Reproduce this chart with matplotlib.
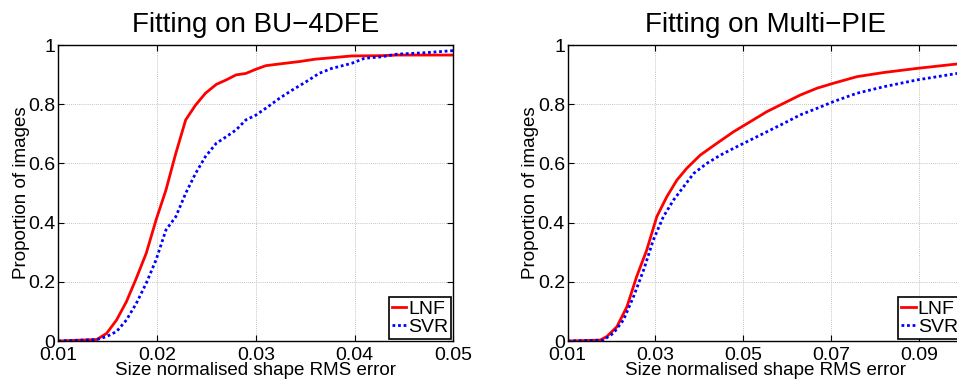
import numpy as np
import matplotlib
matplotlib.use("Agg")
import matplotlib.pyplot as plt

plt.rcParams['font.family'] = ['Liberation Sans', 'DejaVu Sans']

# BU-4DFE cumulative error curves
bu_lnf_x = [0.010, 0.0139, 0.0149, 0.0159, 0.0169, 0.0179, 0.0189, 0.0199, 0.0209, 0.0219,
            0.0229, 0.0239, 0.0249, 0.0260, 0.0270, 0.0280, 0.0290, 0.0300, 0.0310, 0.0324,
            0.0344, 0.0360, 0.0377, 0.0397, 0.0427, 0.0443, 0.0500]
bu_lnf_y = [0.0, 0.005, 0.026, 0.071, 0.133, 0.212, 0.296, 0.409, 0.510, 0.634,
            0.747, 0.797, 0.837, 0.867, 0.882, 0.899, 0.904, 0.918, 0.930, 0.936,
            0.944, 0.952, 0.957, 0.963, 0.964, 0.966, 0.966]
bu_svr_x = [0.010, 0.0139, 0.0149, 0.0159, 0.0169, 0.0179, 0.0189, 0.0199, 0.0209, 0.0219,
            0.0229, 0.0239, 0.0249, 0.0260, 0.0270, 0.0280, 0.0290, 0.0300, 0.0310, 0.0324,
            0.0337, 0.0351, 0.0364, 0.0377, 0.0397, 0.0410, 0.0427, 0.0443, 0.0472, 0.0500]
bu_svr_y = [0.0, 0.005, 0.015, 0.032, 0.071, 0.127, 0.195, 0.274, 0.375, 0.420,
            0.499, 0.566, 0.623, 0.668, 0.690, 0.713, 0.747, 0.763, 0.786, 0.820,
            0.848, 0.876, 0.904, 0.921, 0.938, 0.955, 0.960, 0.969, 0.974, 0.981]

# Multi-PIE cumulative error curves
mp_lnf_x = [0.010, 0.0174, 0.0189, 0.0212, 0.0235, 0.0257, 0.0280, 0.0303, 0.0326, 0.0349,
            0.0371, 0.0402, 0.0440, 0.0478, 0.0516, 0.0554, 0.0592, 0.0630, 0.0668, 0.0706,
            0.0759, 0.0820, 0.0896, 0.0988, 0.1000]
mp_lnf_y = [0.0, 0.003, 0.015, 0.048, 0.116, 0.217, 0.307, 0.420, 0.488, 0.544,
            0.583, 0.628, 0.668, 0.707, 0.741, 0.775, 0.803, 0.831, 0.854, 0.871,
            0.893, 0.907, 0.921, 0.936, 0.937]
mp_svr_x = [0.010, 0.0181, 0.0204, 0.0227, 0.0250, 0.0273, 0.0295, 0.0318, 0.0341, 0.0364,
            0.0387, 0.0417, 0.0448, 0.0478, 0.0516, 0.0554, 0.0592, 0.0630, 0.0668, 0.0706,
            0.0759, 0.0820, 0.0896, 0.0988, 0.1000]
mp_svr_y = [0.0, 0.003, 0.026, 0.071, 0.150, 0.240, 0.341, 0.420, 0.476, 0.521,
            0.566, 0.600, 0.628, 0.651, 0.679, 0.707, 0.735, 0.764, 0.786, 0.809,
            0.837, 0.859, 0.882, 0.904, 0.906]

titles = ["Fitting on BU\u22124DFE", "Fitting on Multi\u2212PIE"]
xlims = [(0.01, 0.05), (0.01, 0.10)]
xticks = [[0.01, 0.02, 0.03, 0.04, 0.05], [0.01, 0.03, 0.05, 0.07, 0.09]]
yticks = [0, 0.2, 0.4, 0.6, 0.8, 1]
ytick_labels = ["0", "0.2", "0.4", "0.6", "0.8", "1"]
series = [((bu_lnf_x, bu_lnf_y), (bu_svr_x, bu_svr_y)),
          ((mp_lnf_x, mp_lnf_y), (mp_svr_x, mp_svr_y))]

W, H = 957, 384
fig = plt.figure(figsize=(W / 100, H / 100), dpi=100)
positions = [[58.3 / W, 43 / H, 395 / W, 296 / H],
             [567.7 / W, 43 / H, 395 / W, 296 / H]]

for k in range(2):
    ax = fig.add_axes(positions[k])
    (lx, ly), (sx, sy) = series[k]
    ax.plot(lx, ly, color='#ff0000', lw=2.0, label='LNF')
    ax.plot(sx, sy, color='#0000ff', lw=2.0, ls=(0, (1, 1)), label='SVR')
    ax.set_xlim(*xlims[k])
    ax.set_ylim(0, 1)
    ax.set_xticks(xticks[k])
    ax.set_xticklabels([f"{t:.2f}" for t in xticks[k]])
    ax.set_yticks(yticks)
    ax.set_yticklabels(ytick_labels)
    ax.grid(True, color='#b0b0b0', ls=(0, (1, 1.5)), lw=0.6)
    ax.tick_params(direction='in', length=4, width=0.8, top=True, right=True,
                   labelsize=14)
    ax.tick_params(axis='x', pad=4.5)
    ax.tick_params(axis='y', pad=2)
    for sp in ax.spines.values():
        sp.set_linewidth(1.0)
    ax.set_title(titles[k], fontsize=20, pad=9)
    ax.set_xlabel("Size normalised shape RMS error", fontsize=13.5, labelpad=-1.5)
    ax.set_ylabel("Proportion of images", fontsize=13.5, labelpad=-1)
    leg = ax.legend(loc='lower right', fontsize=14, handlelength=0.75,
                    handletextpad=0.1, borderpad=0.15, labelspacing=0.05,
                    borderaxespad=0.1, fancybox=False, framealpha=1,
                    edgecolor='black')
    leg.get_frame().set_linewidth(1.2)

fig.savefig("out.png", dpi=100)
